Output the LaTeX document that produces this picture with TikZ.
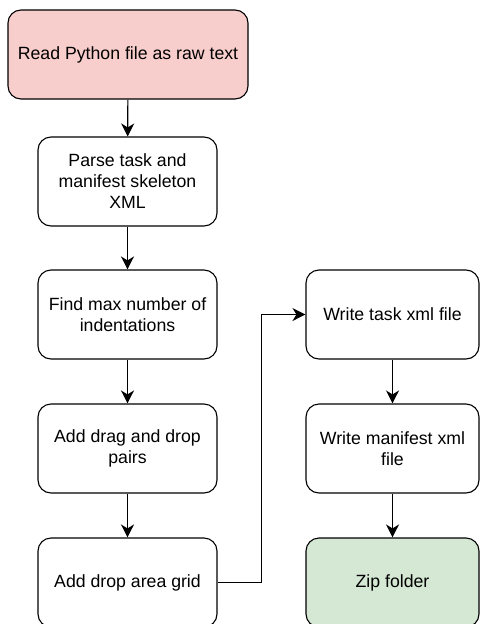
\documentclass[tikz,border=0pt]{standalone}
\usepackage{fontspec}
\setmainfont{Liberation Sans}
\usepackage{xcolor}
\usetikzlibrary{positioning, arrows.meta}
\definecolor{readpink}{HTML}{F8CECC}
\definecolor{zipgreen}{HTML}{D5E8D4}

\begin{document}
\begin{tikzpicture}[x=1pt, y=-1pt,
  stepbox/.style={draw, line width=1.1pt, rounded corners=13pt, align=center,
    minimum width=179pt, minimum height=89pt, inner sep=2pt,
    font=\fontsize{17.7}{21}\selectfont},
  flow/.style={line width=1.1pt, -{Stealth[length=13pt, width=13pt, inset=4pt]}}
]
\useasboundingbox (0,0) rectangle (480,624);
\node[stepbox, fill=readpink, minimum width=240pt] (read) at (128,54.5) {Read Python file as raw text};
\node[stepbox] (parse) at (127.5,181.5) {Parse task and\\manifest skeleton\\XML};
\node[stepbox] (findmax) at (127.5,314.5) {Find max number of\\indentations};
\node[stepbox] (pairs) at (127.5,448.5) {Add drag and drop\\pairs};
\node[stepbox] (grid) at (127.5,582.5) {Add drop area grid};
\node[stepbox, minimum width=173pt] (taskxml) at (392.5,314.5) {Write task xml file};
\node[stepbox, minimum width=173pt] (manifestxml) at (392.5,448.5) {Write manifest xml\\file};
\node[stepbox, fill=zipgreen, minimum width=173pt] (zip) at (392.5,582.5) {Zip folder};
\draw[flow] (read) -- (parse);
\draw[flow] (parse) -- (findmax);
\draw[flow] (findmax) -- (pairs);
\draw[flow] (pairs) -- (grid);
\draw[flow] (grid.east) -- ++(44,0) |- (taskxml.west);
\draw[flow] (taskxml) -- (manifestxml);
\draw[flow] (manifestxml) -- (zip);
\end{tikzpicture}
\end{document}
